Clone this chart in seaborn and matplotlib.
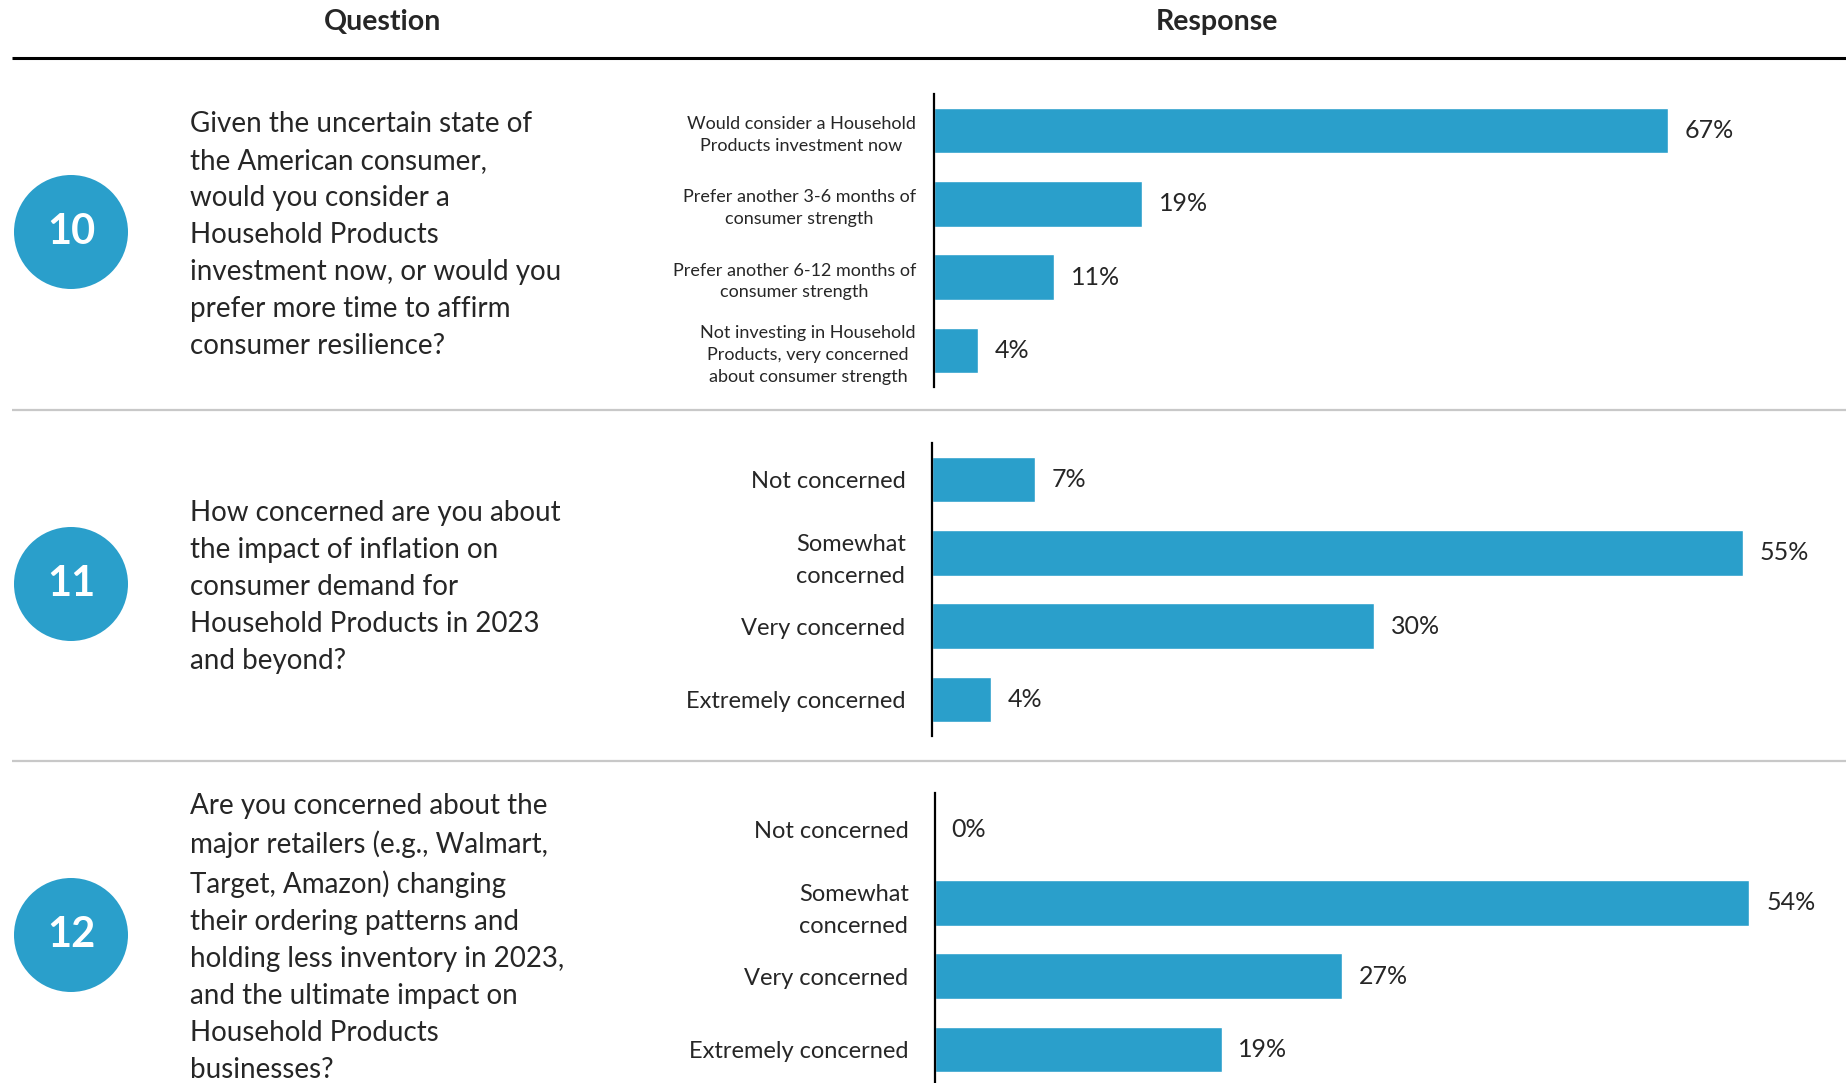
import numpy as np
import pandas as pd
import matplotlib.pyplot as plt
import seaborn as sns
from matplotlib.patches import Circle

# ---- data ----
q_numbers = ['10', '11', '12']
q_texts = [
    "Given the uncertain state of\nthe American consumer,\nwould you consider a\nHousehold Products\ninvestment now, or would you\nprefer more time to affirm\nconsumer resilience?",
    "How concerned are you about\nthe impact of inflation on\nconsumer demand for\nHousehold Products in 2023\nand beyond?",
    "Are you concerned about the\nmajor retailers (e.g., Walmart,\nTarget, Amazon) changing\ntheir ordering patterns and\nholding less inventory in 2023,\nand the ultimate impact on\nHousehold Products\nbusinesses?",
]
q10_labels = ["Would consider a Household\nProducts investment now",
              "Prefer another 3-6 months of\nconsumer strength",
              "Prefer another 6-12 months of\nconsumer strength",
              "Not investing in Household\nProducts, very concerned\nabout consumer strength"]
q10_values = [67, 19, 11, 4]
q11_labels = ["Not concerned", "Somewhat\nconcerned", "Very concerned", "Extremely concerned"]
q11_values = [7, 55, 30, 4]
q12_labels = ["Not concerned", "Somewhat\nconcerned", "Very concerned", "Extremely concerned"]
q12_values = [0, 54, 27, 19]

BLUE = '#2a9fcb'
W, H = 1846, 1083

sns.set_style('white')
plt.rcParams['font.family'] = ['Lato', 'DejaVu Sans']

fig = plt.figure(figsize=(W / 100, H / 100), dpi=100)

def px_axes(x0, y0, x1, y1):
    return fig.add_axes([x0 / W, 1 - y1 / H, (x1 - x0) / W, (y1 - y0) / H])

# overlay for header, rules, circles, question text
bg = fig.add_axes([0, 0, 1, 1])
bg.set_xlim(0, W)
bg.set_ylim(H, 0)
bg.axis('off')

bg.text(383, 22, 'Question', ha='center', va='center', fontsize=20.5, fontweight='bold')
bg.text(1217, 22, 'Response', ha='center', va='center', fontsize=20.5, fontweight='bold')
bg.plot([12, W], [58, 58], color='black', lw=2.2, solid_capstyle='butt')
for y in [410, 761]:
    bg.plot([12, W], [y, y], color='#c8c8c8', lw=1.6, solid_capstyle='butt')

circle_y = [232, 584, 935]
for num, txt, cy in zip(q_numbers, q_texts, circle_y):
    bg.add_patch(Circle((71, cy), 57, color=BLUE, lw=0))
    bg.text(71, cy, num, ha='center', va='center', color='white',
            fontsize=30, fontweight='bold')
    bg.text(190, cy + 3, txt, ha='left', va='center', fontsize=20, linespacing=1.53)

# ---- bar panels ----
panels = [
    (q10_labels, q10_values, (934, 94, W, 387), 83.3, 13, 13, 1.45),
    (q11_labels, q11_values, (932, 443, W, 736), 62.0, 17, 19, 1.65),
    (q12_labels, q12_values, (935, 793, W, 1086), 60.4, 17, 19, 1.65),
]
for labels, values, box, xmax, lab_fs, pad, ls in panels:
    ax = px_axes(*box)
    df = pd.DataFrame({'label': labels, 'value': values})
    sns.barplot(data=df, x='value', y='label', orient='h', color=BLUE,
                saturation=1, width=0.62, ax=ax)
    ax.set_xlim(0, xmax)
    ax.set_ylim(3.5, -0.5)
    ax.set_xlabel('')
    ax.set_ylabel('')
    ax.set_xticks([])
    ax.tick_params(axis='y', length=0, pad=pad, labelsize=lab_fs)
    for t in ax.get_yticklabels():
        t.set_multialignment('center')
        t.set_linespacing(ls)
    for s in ['top', 'right', 'bottom']:
        ax.spines[s].set_visible(False)
    ax.spines['left'].set_color('black')
    ax.spines['left'].set_linewidth(1.6)
    ax.patch.set_alpha(0)
    ax.bar_label(ax.containers[0], labels=[f'{v}%' for v in values],
                 padding=12, fontsize=18)

fig.savefig('out.png', dpi=100)
